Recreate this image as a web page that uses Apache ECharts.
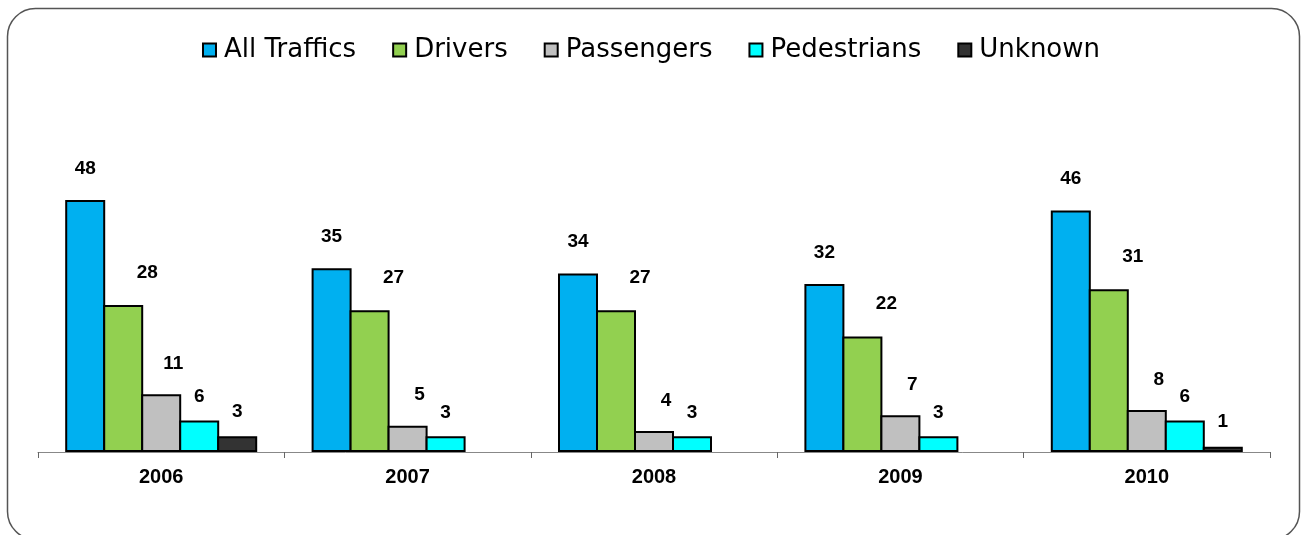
<!DOCTYPE html>
<html>
<head>
<meta charset="utf-8">
<script src="https://cdn.jsdelivr.net/npm/echarts@6/dist/echarts.min.js"></script>
<style>
  html, body { margin: 0; padding: 0; background: #fff; }
  #main { width: 1302px; height: 535px; }
</style>
</head>
<body>
<div id="main"></div>
<script>
// years on the x axis
var years = ['2006', '2007', '2008', '2009', '2010']

// counts per year (null = empty cell, no bar)
var allTraffics = [48, 35, 34, 32, 46]
var drivers = [28, 27, 27, 22, 31]
var passengers = [11, 5, 4, 7, 8]
var pedestrians = [6, 3, 3, 3, 6]
var unknown = [3, null, null, null, 1]

var seriesNames = ['All Traffics', 'Drivers', 'Passengers', 'Pedestrians', 'Unknown']
var seriesData = [allTraffics, drivers, passengers, pedestrians, unknown]
var colors = ['#00B0F0', '#92D050', '#C0C0C0', '#00FFFF', '#333333']
// label nudges, like the hand placed excel labels
var labelOffsets = [[0, -17], [24, -18], [12, -16], [0, -9], [0, -10]]

var chart = echarts.init(document.getElementById('main'))

var series = seriesNames.map(function (name, i) {
  return {
    name: name,
    type: 'bar',
    data: seriesData[i],
    barWidth: 40,
    barGap: '-5%',
    itemStyle: {
      color: colors[i],
      borderColor: '#000',
      borderWidth: 2
    },
    label: {
      show: true,
      position: 'top',
      offset: labelOffsets[i],
      color: '#000',
      fontWeight: 'bold',
      fontSize: 19,
      fontFamily: '"Liberation Sans", Arial, sans-serif'
    }
  }
})

chart.setOption({
  animation: false,
  backgroundColor: '#fff',
  graphic: [{
    type: 'rect',
    shape: { x: 7.5, y: 8.5, width: 1292, height: 531, r: 28 },
    style: { fill: 'none', stroke: '#555', lineWidth: 1.5 },
    silent: true
  }],
  legend: {
    data: seriesNames,
    top: 32,
    left: 'center',
    itemWidth: 13,
    itemHeight: 13,
    itemGap: 36,
    icon: 'rect',
    textStyle: {
      fontSize: 26,
      color: '#000',
      fontFamily: '"DejaVu Sans", sans-serif',
      padding: [0, 0, 0, 3]
    }
  },
  grid: {
    left: 38,
    right: 32,
    top: 137,
    bottom: 83,
    containLabel: false
  },
  xAxis: {
    type: 'category',
    data: years,
    axisLine: { lineStyle: { color: '#888', width: 1 } },
    axisTick: { show: true, length: 6, lineStyle: { color: '#666' } },
    axisLabel: {
      margin: 15,
      color: '#000',
      fontWeight: 'bold',
      fontSize: 20,
      fontFamily: '"Liberation Sans", Arial, sans-serif'
    }
  },
  yAxis: {
    type: 'value',
    min: 0,
    max: 60,
    show: false,
    splitLine: { show: false }
  },
  series: series
})
</script>
</body>
</html>
